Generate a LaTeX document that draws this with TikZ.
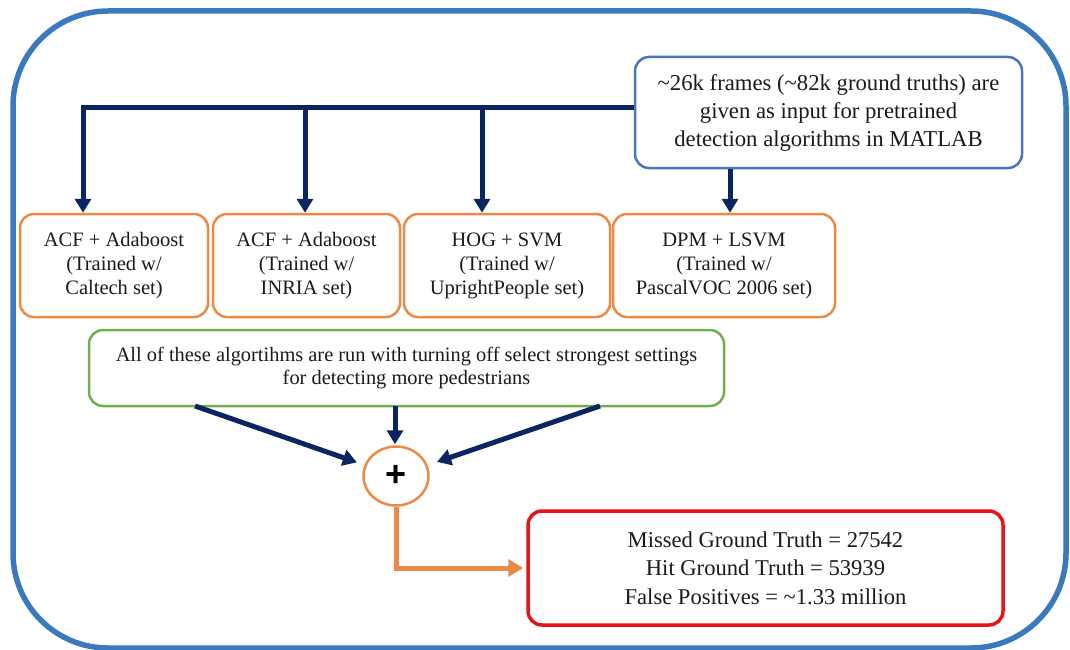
\documentclass[tikz,border=0pt]{standalone}
\usepackage{fontspec}
\setmainfont{Liberation Serif}
\newfontfamily\plusfont{Liberation Sans}
\usetikzlibrary{arrows.meta,shapes.geometric}
\definecolor{frameblue}{HTML}{3A79BD}
\definecolor{inblue}{HTML}{4A74BC}
\definecolor{navy}{HTML}{0B2562}
\definecolor{algorange}{HTML}{EA8A45}
\definecolor{okgreen}{HTML}{74AE4C}
\definecolor{resred}{HTML}{E3141B}
\definecolor{ink}{HTML}{1A1A1A}
\tikzset{
  x=1pt, y=-1pt,
  box/.style={draw, rounded corners=14pt, align=center, text=ink, inner sep=0pt},
  algbox/.style={box, draw=algorange, line width=2.5pt, minimum height=103pt,
    font=\fontsize{20.5}{24}\selectfont},
  inbox/.style={box, draw=inblue, line width=2.5pt, minimum width=387pt, minimum height=111pt,
    font=\fontsize{22.7}{28}\selectfont},
  notebox/.style={box, draw=okgreen, line width=2.5pt, minimum width=635pt, minimum height=76pt,
    font=\fontsize{20.4}{23}\selectfont},
  resbox/.style={box, draw=resred, line width=3.5pt, minimum width=475pt, minimum height=114pt,
    font=\fontsize{22.6}{28.5}\selectfont},
  sumnode/.style={ellipse, draw=algorange, line width=2.5pt, minimum width=65pt, minimum height=59pt,
    inner sep=0pt, font=\plusfont\bfseries\fontsize{36}{36}\selectfont, text=black},
  navyline/.style={draw=navy, line width=5pt},
  navyarrow/.style={navyline, -{Triangle[width=16pt,length=14pt]}},
  orangearrow/.style={draw=algorange, line width=5pt, -{Triangle[width=17pt,length=15pt]}},
}
\begin{document}
\begin{tikzpicture}
  \useasboundingbox (0,0) rectangle (1070,650);
  % outer frame
  \draw[frameblue, line width=5.5pt, rounded corners=95pt] (13,11) rectangle (1066,648);

  % input description
  \node[inbox] (in) at (828.5,112.5)
    {\textasciitilde 26k frames (\textasciitilde 82k ground truths) are\\
     given as input for pretrained\\
     detection algorithms in MATLAB};

  % detectors
  \node[algbox, minimum width=188pt] (b1) at (114,265.5)
    {ACF + Adaboost\\(Trained w/\\Caltech set)};
  \node[algbox, minimum width=187pt] (b2) at (306.5,265.5)
    {ACF + Adaboost\\(Trained w/\\INRIA set)};
  \node[algbox, minimum width=206pt] (b3) at (507,265.5)
    {HOG + SVM\\(Trained w/\\UprightPeople set)};
  \node[algbox, minimum width=222pt] (b4) at (724,265.5)
    {DPM + LSVM\\(Trained w/\\PascalVOC 2006 set)};

  % note on settings
  \node[notebox] (g) at (406.5,368)
    {All of these algortihms are run with turning off select strongest settings\\
     for detecting more pedestrians};

  % combination
  \node[sumnode] (plus) at (396,476) {+};

  % results
  \node[resbox] (r) at (765.5,568)
    {Missed Ground Truth = 27542\\
     Hit Ground Truth = 53939\\
     False Positives = \textasciitilde 1.33 million};

  % distribution bus
  \coordinate (j1) at (83,108);
  \coordinate (j2) at (305,108);
  \coordinate (j3) at (482,108);
  \coordinate (j4) at (730,168);
  \draw[navyline] (in.west |- j1) -- (j1) -- ++(0,2.5);
  \draw[navyarrow] (j1) -- (j1 |- b1.north);
  \draw[navyarrow] (j2) -- (j2 |- b2.north);
  \draw[navyarrow] (j3) -- (j3 |- b3.north);
  \draw[navyarrow] (j4 |- in.south) -- (j4 |- b4.north);

  % into the sum
  \coordinate (s1) at (195,406);
  \coordinate (s2) at (395,406);
  \coordinate (s3) at (600,406);
  \draw[navyarrow, shorten >=8pt] (s1) -- (plus);
  \draw[navyarrow, shorten >=1pt] (s2) -- (s2 |- plus.north);
  \draw[navyarrow, shorten >=10pt] (s3) -- (plus);

  % to results
  \draw[orangearrow, shorten >=3pt] (plus.south) |- (r.west);
\end{tikzpicture}
\end{document}
